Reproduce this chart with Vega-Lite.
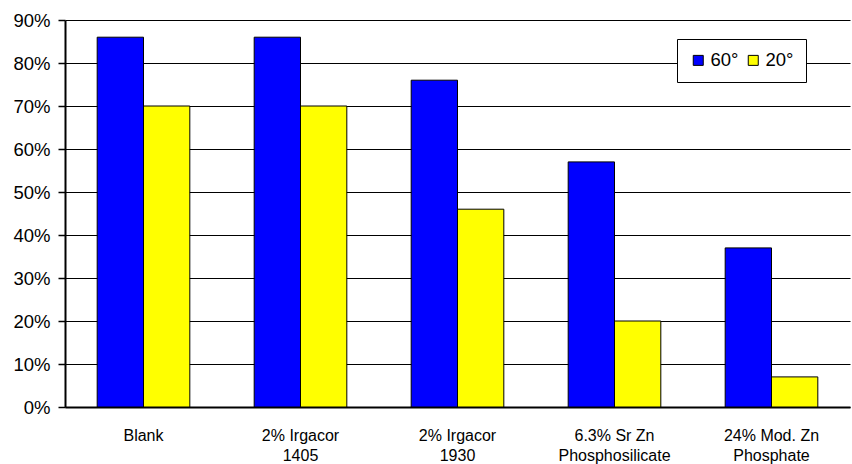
{
  "$schema": "https://vega.github.io/schema/vega-lite/v6.json",
  "width": 785,
  "height": 387,
  "autosize": "none",
  "padding": {"left": 65, "top": 20, "right": 2, "bottom": 57},
  "background": "white",
  "config": {
    "font": "Liberation Sans",
    "view": {"stroke": null}
  },
  "data": {
    "values": [
      {"cat": "Blank", "angle": "60°", "v": 0.86},
      {"cat": "Blank", "angle": "20°", "v": 0.70},
      {"cat": "2% Irgacor|1405", "angle": "60°", "v": 0.86},
      {"cat": "2% Irgacor|1405", "angle": "20°", "v": 0.70},
      {"cat": "2% Irgacor|1930", "angle": "60°", "v": 0.76},
      {"cat": "2% Irgacor|1930", "angle": "20°", "v": 0.46},
      {"cat": "6.3% Sr Zn|Phosphosilicate", "angle": "60°", "v": 0.57},
      {"cat": "6.3% Sr Zn|Phosphosilicate", "angle": "20°", "v": 0.20},
      {"cat": "24% Mod. Zn|Phosphate", "angle": "60°", "v": 0.37},
      {"cat": "24% Mod. Zn|Phosphate", "angle": "20°", "v": 0.07}
    ]
  },
  "mark": {"type": "bar", "stroke": "black", "strokeWidth": 1},
  "encoding": {
    "x": {
      "field": "cat",
      "type": "nominal",
      "sort": null,
      "scale": {"paddingInner": 0.41, "paddingOuter": 0.205},
      "axis": {
        "title": null,
        "labelAngle": 0,
        "labelExpr": "split(datum.label, '|')",
        "labelFontSize": 16,
        "labelColor": "black",
        "labelPadding": 20,
        "labelLineHeight": 20,
        "labelBaseline": "top",
        "ticks": false,
        "domainColor": "black",
        "domainWidth": 2,
        "grid": false
      }
    },
    "xOffset": {"field": "angle", "type": "nominal", "sort": ["60°", "20°"], "scale": {"paddingInner": 0, "paddingOuter": 0}},
    "y": {
      "field": "v",
      "type": "quantitative",
      "scale": {"domain": [0, 0.9], "nice": false},
      "axis": {
        "title": null,
        "format": ".0%",
        "values": [0, 0.1, 0.2, 0.3, 0.4, 0.5, 0.6, 0.7, 0.8, 0.9],
        "labelFontSize": 18.5,
        "labelColor": "black",
        "labelPadding": 8,
        "tickColor": "black",
        "tickSize": 7,
        "tickWidth": 1.5,
        "domainColor": "black",
        "domainWidth": 2,
        "gridColor": "black",
        "gridWidth": 1,
        "gridOpacity": 1
      }
    },
    "color": {
      "field": "angle",
      "type": "nominal",
      "sort": ["60°", "20°"],
      "scale": {"domain": ["60°", "20°"], "range": ["#0000FF", "#FFFF00"]},
      "legend": {
        "title": null,
        "orient": "none",
        "legendX": 612,
        "legendY": 19,
        "direction": "horizontal",
        "columns": 2,
        "columnPadding": 5,
        "padding": 12,
        "strokeColor": "black",
        "fillColor": "white",
        "symbolType": "square",
        "symbolSize": 100,
        "symbolStrokeColor": "black",
        "symbolStrokeWidth": 1,
        "symbolOpacity": 1,
        "labelFontSize": 18.5,
        "labelColor": "black",
        "labelOffset": 3
      }
    }
  }
}
